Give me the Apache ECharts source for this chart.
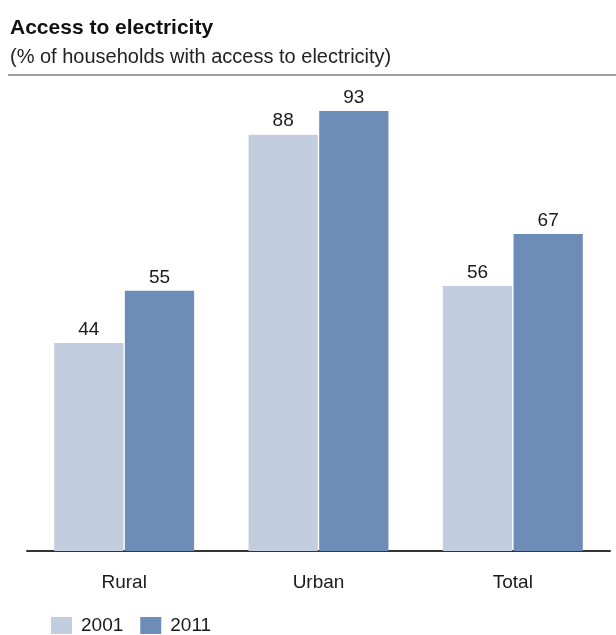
<!DOCTYPE html>
<html>
<head>
<meta charset="utf-8">
<script src="https://cdn.jsdelivr.net/npm/echarts@6/dist/echarts.min.js"></script>
<style>
html,body{margin:0;padding:0;background:#fff;}
#chart{width:616px;height:635px;}
</style>
</head>
<body>
<div id="chart"></div>
<script>
var categories = ['Rural', 'Urban', 'Total'];
var seriesNames = ['2001', '2011'];
var values2001 = [44, 88, 56];
var values2011 = [55, 93, 67];

var FONT = '"Liberation Sans", Arial, sans-serif';
var chart = echarts.init(document.getElementById('chart'), null, {renderer: 'canvas'});

function barSeries(name, data, color) {
  return {
    name: name,
    type: 'bar',
    data: data,
    barGap: '2%',
    barCategoryGap: '28%',
    itemStyle: {color: color},
    label: {
      show: true,
      position: 'top',
      distance: 4,
      color: '#1a1a1a',
      fontFamily: FONT,
      fontSize: 19
    }
  };
}

chart.setOption({
  animation: false,
  title: [
    {
      text: 'Access to electricity',
      left: 10, top: 18, padding: 0,
      textStyle: {fontFamily: FONT, fontSize: 21, fontWeight: 'bold', color: '#111'}
    },
    {
      text: '(% of households with access to electricity)',
      left: 10, top: 47, padding: 0,
      textStyle: {fontFamily: FONT, fontSize: 20, fontWeight: 'normal', color: '#222'}
    }
  ],
  graphic: [
    {
      type: 'line',
      shape: {x1: 8, y1: 75, x2: 616, y2: 75},
      style: {stroke: '#a0a0a0', lineWidth: 2}
    }
  ],
  legend: {
    data: seriesNames,
    left: 51, top: 616, padding: 0,
    itemWidth: 21, itemHeight: 17,
    itemGap: 17,
    icon: 'rect',
    textStyle: {fontFamily: FONT, fontSize: 19, color: '#1a1a1a', padding: [0, 0, 0, 4]}
  },
  grid: {left: 27, right: 6, top: 78, height: 473, containLabel: false},
  xAxis: {
    type: 'category',
    data: categories,
    axisLine: {show: true, lineStyle: {color: '#333', width: 2}},
    axisTick: {show: false},
    axisLabel: {fontFamily: FONT, fontSize: 19, color: '#1a1a1a', margin: 22}
  },
  yAxis: {
    type: 'value',
    min: 0, max: 100,
    show: false,
    splitLine: {show: false}
  },
  series: [
    barSeries(seriesNames[0], values2001, '#c3cde0'),
    barSeries(seriesNames[1], values2011, '#6d8db8')
  ]
});
</script>
</body>
</html>
